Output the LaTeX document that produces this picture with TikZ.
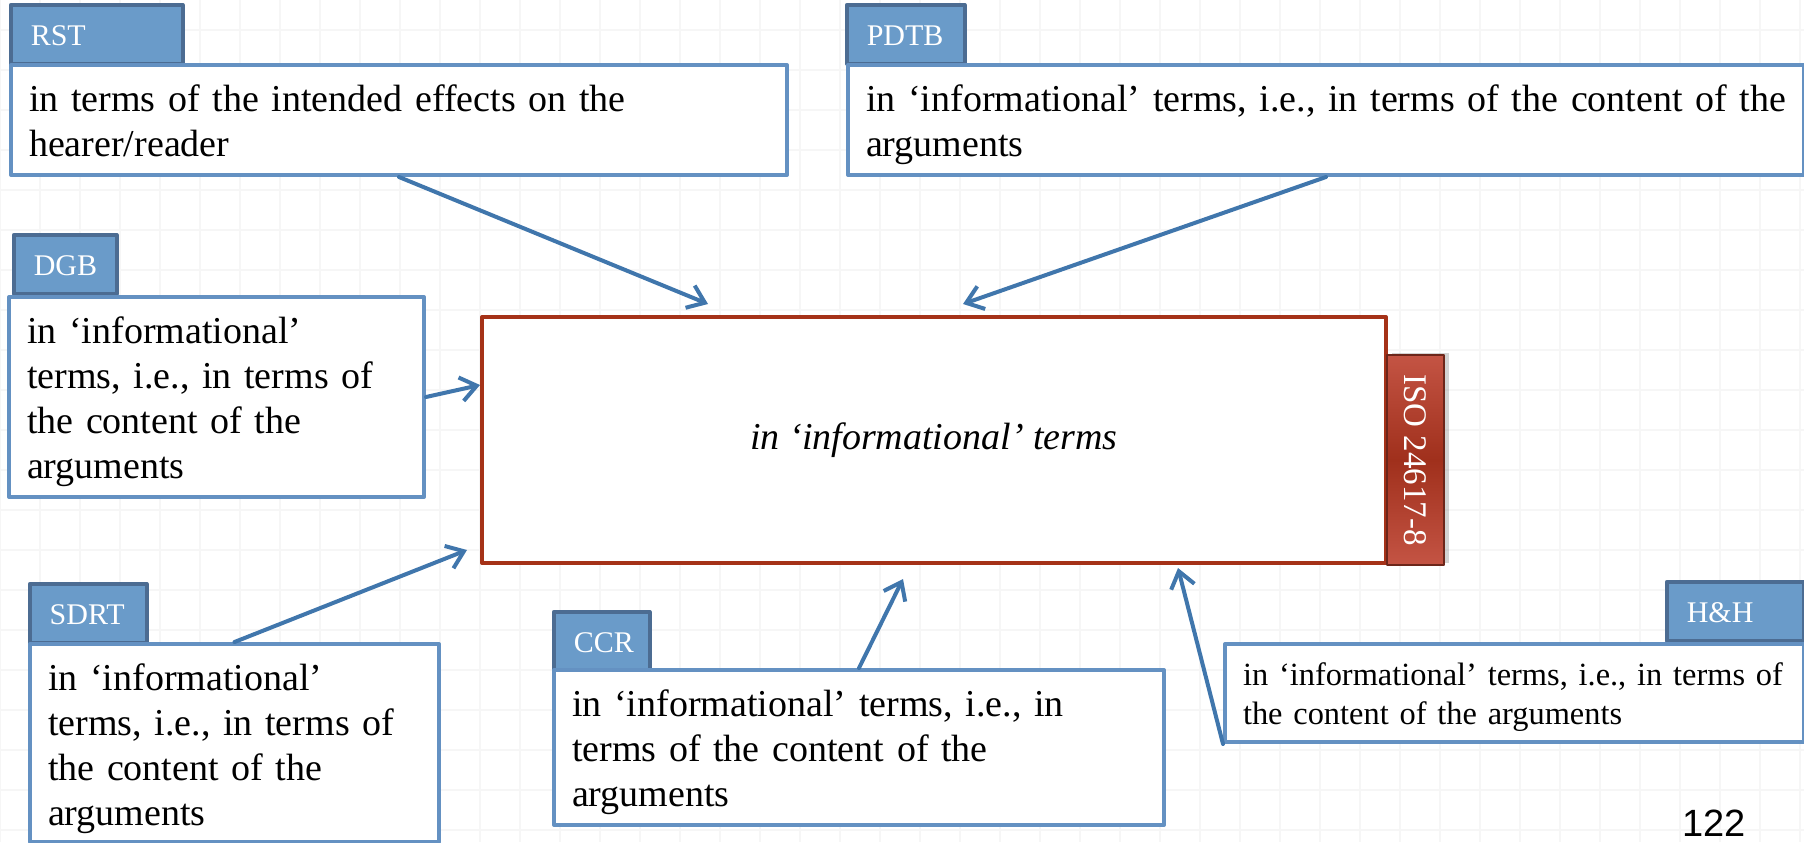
\documentclass[tikz,border=0pt]{standalone}
\usepackage{fontspec}
\setmainfont{Liberation Serif}
\newfontfamily\pagefont{Liberation Sans}
\usetikzlibrary{arrows.meta,calc,shadows}
\definecolor{tagblue}{RGB}{106,155,201}
\definecolor{tagedge}{RGB}{76,108,146}
\definecolor{boxblue}{RGB}{100,145,194}
\definecolor{linkblue}{RGB}{64,118,172}
\definecolor{isored}{RGB}{196,84,68}
\definecolor{isodark}{RGB}{160,48,28}
\definecolor{isoedge}{RGB}{108,38,26}
\definecolor{mainred}{RGB}{165,50,24}
\definecolor{gridgray}{RGB}{246,246,246}
\begin{document}
\begin{tikzpicture}[x=0.5pt,y=-0.5pt,line join=round,
        gridline/.style={draw=gridgray,line width=1pt},
        tagbox/.style={draw=tagedge,fill=tagblue,line width=1.75pt,text=white,
            font=\fontsize{15}{17}\selectfont,anchor=north west,align=left,
            inner xsep=10pt,inner ysep=0pt,text height=20.5pt,text depth=9pt,text width=#1},
        infobox/.style={draw=boxblue,fill=white,line width=2pt,anchor=north west,align=left,
            inner xsep=9pt,inner ysep=0pt,text height=23pt,font=\fontsize{19}{22.5}\selectfont},
        mainbox/.style={draw=mainred,fill=white,line width=2pt,minimum width=452pt,
            minimum height=123pt,font=\fontsize{19}{22}\selectfont\itshape},
        isotag/.style={draw=isoedge,line width=1.25pt,top color=isored,bottom color=isored,
            middle color=isodark,text=white,minimum width=105pt,minimum height=28.5pt,inner sep=0pt,
            font=\fontsize{16.5}{18}\selectfont,drop shadow={shadow xshift=2.5pt,shadow yshift=1pt,opacity=.35}},
        link/.style={draw=linkblue,line width=2pt,line cap=round,-{Straight Barb[length=8pt,width=12pt]}}]
    \useasboundingbox (0,0) rectangle (1804,842);
    % faint background grid
    \foreach \gx in {0,40,...,1800} \draw[gridline] (\gx,0) -- (\gx,842);
    \foreach \gy in {30,70,...,830} \draw[gridline] (0,\gy) -- (1804,\gy);
    % labels on top of the boxes
    \node[tagbox=66pt] (rsttag) at (9,3) {RST};
    \node[tagbox=39pt] (pdtbtag) at (845,3) {PDTB};
    \node[tagbox=31.5pt] (dgbtag) at (12,233) {DGB};
    \node[tagbox=38.5pt] (sdrttag) at (28,582) {SDRT};
    \node[tagbox=28pt] (ccrtag) at (552,610) {CCR};
    \node[tagbox=48.5pt] (hhtag) at (1665,580) {H\&H};
    % text boxes
    \node[infobox,text width=370pt,text depth=32pt] (rst) at (9,63)
        {in terms of the intended effects on the\\hearer/reader};
    \node[infobox,text width=460pt,text depth=32pt] (pdtb) at (846,63)
        {\mbox{in ‘informational’ terms, i.e., in terms of the content of the}\\arguments};
    \node[infobox,text width=189.5pt,text depth=77pt] (dgb) at (7,295)
        {in ‘informational’\\terms, i.e., in terms of\\the content of the\\arguments};
    \node[infobox,text width=186.5pt,text depth=76pt] (sdrt) at (28,642)
        {in ‘informational’\\terms, i.e., in terms of\\the content of the\\arguments};
    \node[infobox,text width=287pt,text depth=54.5pt] (ccr) at (552,668)
        {in ‘informational’ terms, i.e., in\\terms of the content of the\\arguments};
    \node[infobox,text width=271.5pt,text height=20.5pt,text depth=28.5pt,
        font=\fontsize{16.2}{19.5}\selectfont] (hh) at (1223,642)
        {\mbox{in ‘informational’ terms, i.e., in terms of}\\the content of the arguments};
    % central box
    \node[mainbox] (main) at (934,440) {in ‘informational’ terms};
    \node[isotag,rotate=-90] (iso) at (1415.5,460) {ISO 24617-8};
    % arrow tips
    \coordinate (rsttip) at (708,304);
    \coordinate (pdtbtip) at (963,304);
    \coordinate (dgbtip) at (480,385);
    \coordinate (sdrttip) at (467,550);
    \coordinate (ccrtip) at (903,579);
    \coordinate (hhtip) at (1178,568);
    \draw[link] (rst.south) -- (rsttip);
    \draw[link] (pdtb.south) -- (pdtbtip);
    \draw[link] (dgb.east) -- (dgbtip);
    \draw[link] (sdrt.north) -- (sdrttip);
    \draw[link] (ccr.north) -- (ccrtip);
    \draw[link] (hh.south west) -- (hhtip);
    \node[font=\pagefont\fontsize{19}{20}\selectfont,anchor=base] (pagenum) at (1714,836) {122};
\end{tikzpicture}
\end{document}
